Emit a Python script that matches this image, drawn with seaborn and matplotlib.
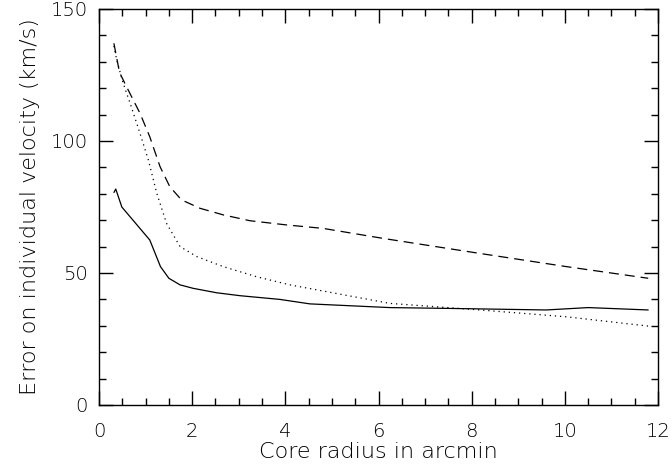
import matplotlib
matplotlib.use("Agg")
import matplotlib.pyplot as plt
import seaborn as sns
import pandas as pd
from matplotlib.ticker import MultipleLocator

sns.set_theme(style="ticks")
plt.rcParams['font.family'] = ['DejaVu Sans']
plt.rcParams['font.weight'] = 'light'
plt.rcParams['axes.labelweight'] = 'light'
plt.rcParams['lines.scale_dashes'] = False

solid_x = [0.32, 0.36, 0.49, 1.09, 1.32, 1.50, 1.74, 2.02, 2.53, 3.03, 3.88, 4.53, 6.24, 7.46, 9.6, 10.5, 11.79]
solid_y = [80.5, 81.8, 75.0, 62.5, 52.4, 48.0, 45.5, 44.2, 42.5, 41.4, 40.0, 38.3, 36.9, 36.6, 36.0, 36.9, 36.0]

dashed_x = [0.32, 0.44, 0.59, 0.88, 1.09, 1.31, 1.52, 1.77, 2.17, 2.67, 3.24, 4.03, 4.81, 6.10, 8.18, 10.04, 11.79]
dashed_y = [137.0, 126.0, 120.6, 110.5, 101.6, 90.3, 82.7, 77.7, 74.5, 72.0, 69.8, 68.2, 66.9, 63.1, 57.4, 52.4, 48.0]

dotted_x = [0.32, 0.38, 0.52, 0.67, 0.88, 1.06, 1.24, 1.45, 1.74, 2.10, 2.67, 3.38, 4.10, 6.24, 8.18, 10.04, 11.79]
dotted_y = [136.0, 130.7, 121.8, 114.2, 102.9, 92.8, 80.2, 68.8, 60.0, 56.2, 52.4, 48.6, 45.5, 38.5, 36.0, 33.4, 29.9]

fig = plt.figure(figsize=(6.72, 4.70), dpi=100)
ax = fig.add_axes([99/672, 1-405/470, (658-99)/672, (405-9)/470])

sns.lineplot(x=solid_x, y=solid_y, ax=ax, color="black", lw=0.9, sort=False)
sns.lineplot(x=dashed_x, y=dashed_y, ax=ax, color="black", lw=0.9, sort=False)
ax.lines[-1].set_dashes([7.2, 4.3])
sns.lineplot(x=dotted_x, y=dotted_y, ax=ax, color="black", lw=0.9, sort=False)
ax.lines[-1].set_dashes([0.9, 2.8])

ax.set_xlim(0, 12)
ax.set_ylim(0, 150)
ax.xaxis.set_major_locator(MultipleLocator(2))
ax.xaxis.set_minor_locator(MultipleLocator(0.5))
ax.yaxis.set_major_locator(MultipleLocator(50))
ax.yaxis.set_minor_locator(MultipleLocator(10))
ax.tick_params(which="both", direction="in", top=True, right=True, color="black", width=1.0,
               labelcolor="black")
ax.tick_params(which="major", length=10, labelsize=14)
ax.tick_params(axis="x", which="major", pad=12)
ax.tick_params(axis="y", which="major", pad=8)
ax.tick_params(which="minor", length=5)
for s in ax.spines.values():
    s.set_color("black")
    s.set_linewidth(1.0)
ax.set_xlabel("Core radius in arcmin", fontsize=16, labelpad=1, color="black", fontweight="light")
ax.set_ylabel("Error on individual velocity (km/s)", fontsize=16, labelpad=8, color="black", fontweight="light")

fig.savefig("out.png", dpi=100)
